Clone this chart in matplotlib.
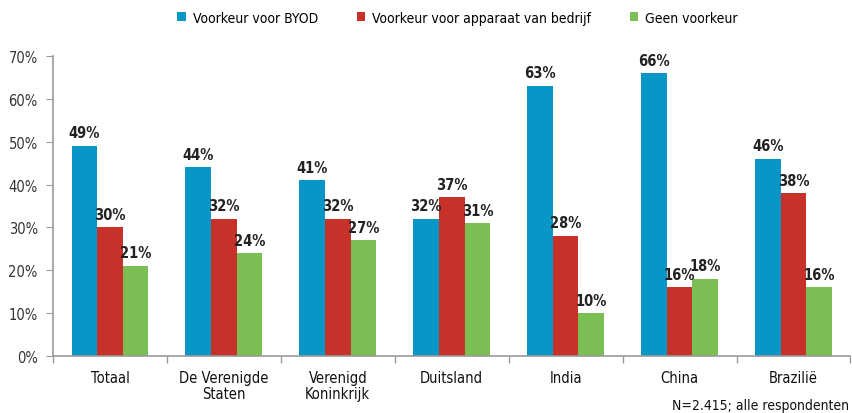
import matplotlib
matplotlib.use("Agg")
import matplotlib.pyplot as plt
import numpy as np
from matplotlib.ticker import FuncFormatter, FixedLocator
from matplotlib import font_manager as fm

plt.rcParams['font.family'] = ['DejaVu Sans']
plt.rcParams['font.stretch'] = 'condensed'

categories = ["Totaal", "De Verenigde\nStaten", "Verenigd\nKoninkrijk", "Duitsland", "India", "China", "Brazilië"]
series_names = ["Voorkeur voor BYOD", "Voorkeur voor apparaat van bedrijf", "Geen voorkeur"]
byod = [49, 44, 41, 32, 63, 66, 46]
bedrijf = [30, 32, 32, 37, 28, 16, 38]
geen = [21, 24, 27, 31, 10, 18, 16]
colors = ["#0796C6", "#C6312A", "#7BBE53"]

fig = plt.figure(figsize=(8.52, 4.14), dpi=100)
ax = fig.add_axes([0.0622, 0.1377, 0.936, 0.7246])

cond = fm.FontProperties(family='DejaVu Sans', stretch='condensed', weight='bold', size=10.5)

x = np.arange(len(categories))
w = 0.225
for i, (vals, c, name) in enumerate(zip([byod, bedrijf, geen], colors, series_names)):
    pos = x + (i - 1) * w
    ax.bar(pos, vals, width=w, color=c, label=name)
    for p, v in zip(pos, vals):
        ax.text(p, v + 1.3, f"{v}%", ha='center', va='bottom', fontproperties=cond, color='#222222')

ax.set_xlim(-0.5, len(categories) - 0.5)
ax.set_ylim(0, 70)
ax.set_yticks(range(0, 71, 10))
ax.yaxis.set_major_formatter(FuncFormatter(lambda v, p: f"{int(v)}%"))
ax.set_xticks(x)
ax.set_xticklabels(categories, fontsize=10.5, color='#111111', linespacing=1.1)
ax.xaxis.set_minor_locator(FixedLocator(np.arange(-0.5, len(categories), 1.0)))
ax.tick_params(axis='x', which='major', length=0, pad=10)
ax.tick_params(axis='x', which='minor', length=5, color='#999999', width=1)
ax.tick_params(axis='y', length=5, color='#999999', labelsize=10.5, labelcolor='#333333', pad=6)
for s in ['top', 'right']:
    ax.spines[s].set_visible(False)
for s in ['left', 'bottom']:
    ax.spines[s].set_color('#999999')
    ax.spines[s].set_linewidth(1.2)

fig.legend(loc='center', bbox_to_anchor=(0.537, 0.955), ncol=3, frameon=False, fontsize=10,
           handlelength=0.6, handleheight=0.6, handletextpad=0.5, columnspacing=2.8)
fig.text(0.996, 0.003, "N=2.415; alle respondenten", ha='right', va='bottom', fontsize=10, color='#111111')

fig.savefig("out.png", dpi=100)
